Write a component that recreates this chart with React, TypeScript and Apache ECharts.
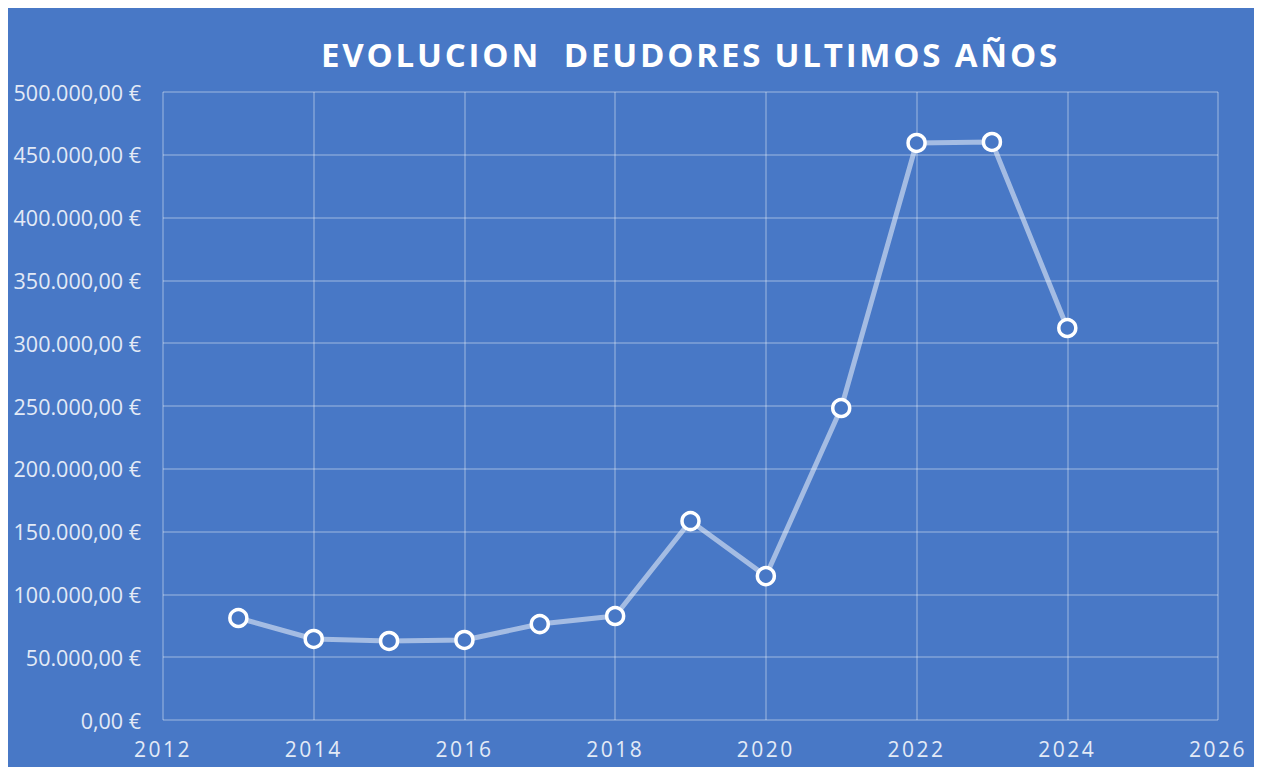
import React, { useEffect, useRef } from "react";
import * as echarts from "echarts";

const years = [2013, 2014, 2015, 2016, 2017, 2018, 2019, 2020, 2021, 2022, 2023, 2024];
const deudores = [81200, 64500, 62900, 63700, 76400, 82800, 158400, 114600, 248400, 459400, 460200, 312100];
const titleText = "EVOLUCION  DEUDORES ULTIMOS AÑOS";

const BG = "#4878c6";

function fmtEuro(v: number): string {
  const fixed = v.toFixed(2);
  const [intPart, dec] = fixed.split(".");
  const withDots = intPart.replace(/\B(?=(\d{3})+(?!\d))/g, ".");
  return withDots + "," + dec + " €";
}

export default function App() {
  const ref = useRef<HTMLDivElement>(null);
  useEffect(() => {
    document.body.style.overflow = "hidden";
    const chart = echarts.init(ref.current!, undefined, { renderer: "svg" });
    chart.setOption({
      animation: false,
      backgroundColor: BG,
      title: {
        text: titleText,
        left: 308,
        top: 25,
        textStyle: {
          color: "#ffffff",
          fontFamily: "Open Sans",
          fontWeight: "bold",
          fontSize: 33,
        },
      },
      grid: { left: 155, right: 43, top: 84, bottom: 47, containLabel: false },
      xAxis: {
        type: "value",
        min: 2012,
        max: 2026,
        interval: 2,
        axisLine: { show: false },
        axisTick: { show: false },
        splitLine: { show: true, lineStyle: { color: "rgba(255,255,255,0.32)", width: 1.5 } },
        axisLabel: {
          color: "#e3eaf6",
          fontFamily: "Open Sans",
          fontSize: 21,
          margin: 18,
          formatter: (v: number) => String(v),
        },
      },
      yAxis: {
        type: "value",
        min: 0,
        max: 500000,
        interval: 50000,
        axisLine: { show: false },
        axisTick: { show: false },
        splitLine: { show: true, lineStyle: { color: "rgba(255,255,255,0.32)", width: 1.5 } },
        axisLabel: {
          color: "#e3eaf6",
          fontFamily: "Open Sans",
          fontSize: 21.5,
          margin: 22,
          formatter: (v: number) => fmtEuro(v),
        },
      },
      series: [
        {
          type: "line",
          data: years.map((y, i) => [y, deudores[i]]),
          lineStyle: { color: "rgba(255,255,255,0.5)", width: 5 },
          symbol: "circle",
          symbolSize: 17,
          showAllSymbol: true,
          itemStyle: { color: BG, borderColor: "#ffffff", borderWidth: 3.5 },
          z: 3,
        },
      ],
    });
    return () => chart.dispose();
  }, []);
  return (
    <>
      <style>{`#chart text[text-anchor="middle"] { letter-spacing: 2.5px; } #chart text[text-anchor="start"] { letter-spacing: 2.8px; }`}</style>
      <div id="chart" ref={ref} style={{ width: 1253, height: 759 }} />
    </>
  );
}
